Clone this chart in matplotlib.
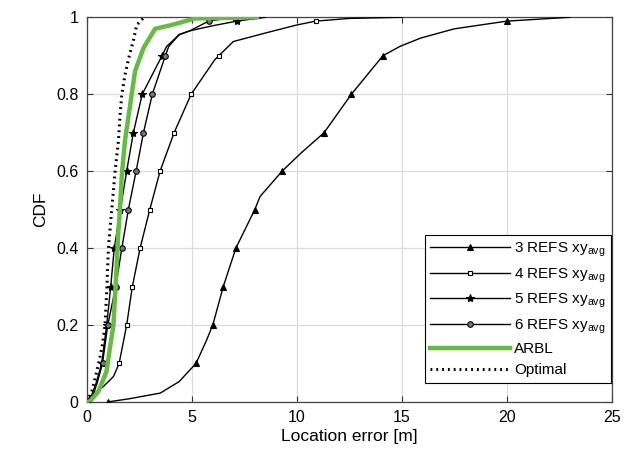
import numpy as np
import matplotlib
matplotlib.use("Agg")
import matplotlib.pyplot as plt

plt.rcParams["font.family"] = ["Liberation Sans", "DejaVu Sans"]
plt.rcParams["mathtext.fontset"] = "custom"
plt.rcParams["mathtext.rm"] = "Liberation Sans"

# CDF curves: (location error [m], CDF)
x3 = [1.0, 2.0, 3.5, 4.4, 5.2, 5.7, 6.0, 6.5, 7.1, 8.0, 8.25, 9.3, 10.2, 11.3, 12.6, 14.1, 14.9, 15.9, 17.5, 20.0, 23.0]
y3 = [0.0, 0.008, 0.023, 0.053, 0.10, 0.16, 0.20, 0.30, 0.40, 0.50, 0.534, 0.60, 0.647, 0.70, 0.80, 0.90, 0.924, 0.946, 0.97, 0.99, 1.0]

x4 = [0, 0.16, 0.79, 1.27, 1.54, 1.9, 2.17, 2.54, 3.0, 3.49, 4.16, 4.97, 6.1, 6.98, 8.57, 10.0, 10.9, 12.5, 15.0]
y4 = [0, 0.014, 0.04, 0.066, 0.10, 0.20, 0.30, 0.40, 0.50, 0.60, 0.70, 0.80, 0.89, 0.937, 0.96, 0.98, 0.99, 0.997, 1.0]

x5 = [0, 0.24, 0.45, 0.71, 0.95, 1.14, 1.31, 1.6, 1.9, 2.22, 2.64, 3.49, 3.8, 4.4, 4.92, 6.0, 7.14, 8.5]
y5 = [0, 0.018, 0.05, 0.10, 0.20, 0.30, 0.40, 0.50, 0.60, 0.70, 0.80, 0.89, 0.924, 0.955, 0.965, 0.978, 0.99, 1.0]

x6 = [0, 0.3, 0.5, 0.75, 1.0, 1.38, 1.67, 1.98, 2.35, 2.7, 3.12, 3.68, 3.9, 4.4, 4.92, 5.8, 7.0]
y6 = [0, 0.018, 0.05, 0.10, 0.20, 0.30, 0.40, 0.50, 0.60, 0.70, 0.80, 0.89, 0.924, 0.955, 0.965, 0.99, 1.0]

x_arbl = [0, 0.16, 0.55, 0.94, 1.1, 1.27, 1.35, 1.43, 1.5, 1.58, 1.67, 1.82, 2.06, 2.3, 2.7, 3.25, 4.04, 5.16, 8.2]
y_arbl = [0, 0.002, 0.027, 0.079, 0.14, 0.2, 0.28, 0.36, 0.44, 0.5, 0.59, 0.68, 0.77, 0.86, 0.92, 0.97, 0.98, 0.997, 1.0]

x_opt = [0, 0.24, 0.55, 0.75, 0.87, 0.96, 1.03, 1.19, 1.35, 1.51, 1.59, 1.67, 1.82, 1.98, 2.22, 2.38, 2.64, 2.75]
y_opt = [0, 0.027, 0.096, 0.15, 0.2, 0.3, 0.4, 0.5, 0.6, 0.68, 0.75, 0.8, 0.85, 0.89, 0.94, 0.98, 0.995, 1.0]

# CDF levels where markers sit
mark_levels = [0, 0.1, 0.2, 0.3, 0.4, 0.5, 0.6, 0.7, 0.8, 0.9, 0.99]

fig = plt.figure(figsize=(6.38, 4.62), dpi=100)
ax = fig.add_axes([0.136, 0.13, 0.823, 0.8326])

series = [
    (x3, y3, "^", dict(ms=5, mfc="black"), "3 REFS xy$_{\\mathregular{avg}}$"),
    (x4, y4, "s", dict(ms=3.5, mfc="white"), "4 REFS xy$_{\\mathregular{avg}}$"),
    (x5, y5, "*", dict(ms=6, mfc="black"), "5 REFS xy$_{\\mathregular{avg}}$"),
    (x6, y6, "o", dict(ms=4, mfc="#777777"), "6 REFS xy$_{\\mathregular{avg}}$"),
]
handles = []
for xs, ys, mk, mkw, lab in series:
    ax.plot(xs, ys, color="black", lw=1.0, zorder=3)
    mx = np.interp(mark_levels, ys, xs)
    ax.plot(mx, mark_levels, ls="none", marker=mk, color="black", mec="black", mew=0.8, zorder=4, **mkw)
    h, = ax.plot([], [], color="black", lw=1.0, marker=mk, mec="black", mew=0.8, markevery=[1], **mkw)
    handles.append((h, lab))

h_arbl, = ax.plot(x_arbl, y_arbl, color="#66bb44", lw=3.2, zorder=5, solid_capstyle="butt")
h_opt, = ax.plot(x_opt, y_opt, color="black", lw=2.2, ls=(0, (0.6, 1.3)), zorder=2)

# legend handles with marker in the middle of the line
leg_handles = []
for h, lab in handles:
    leg_handles.append(h)
for h in leg_handles:
    h.set_data([0, 0.5, 1], [0, 0, 0])
    h.set_visible(False)

from matplotlib.lines import Line2D
proxies = []
for xs, ys, mk, mkw, lab in series:
    proxies.append(Line2D([0, 0.5, 1], [0, 0, 0], color="black", lw=1.0, marker=mk,
                          mec="black", mew=0.8, markevery=[1], **mkw))
proxies.append(Line2D([], [], color="#66bb44", lw=3.2))
proxies.append(Line2D([], [], color="black", lw=2.2, ls=(0, (0.6, 1.3))))
labels = [s[4] for s in series] + ["ARBL", "Optimal"]

leg = ax.legend(proxies, labels, loc="lower right", bbox_to_anchor=(0.9985, 0.05),
                fontsize=11, handlelength=5.2, handletextpad=0.3, labelspacing=0.45,
                borderpad=0.35, borderaxespad=0.0, fancybox=False, framealpha=1,
                edgecolor="black")
leg.get_frame().set_linewidth(0.8)
leg.set_zorder(10)

ax.set_xlim(0, 25)
ax.set_ylim(0, 1)
ax.set_xticks([0, 5, 10, 15, 20, 25])
ax.set_yticks([0, 0.2, 0.4, 0.6, 0.8, 1])
ax.set_yticklabels(["0", "0.2", "0.4", "0.6", "0.8", "1"])
ax.grid(True, color="#dcdcdc", lw=0.9)
ax.set_axisbelow(True)
ax.tick_params(direction="in", length=4, top=True, right=True, labelsize=11.5,
               color="#333333", pad=6)
for sp in ax.spines.values():
    sp.set_color("#444444")
    sp.set_linewidth(0.9)

ax.set_xlabel("Location error [m]", fontsize=12.5, labelpad=3)
ax.set_ylabel("CDF", fontsize=12.5, labelpad=6)

fig.savefig("out.png", dpi=100)
